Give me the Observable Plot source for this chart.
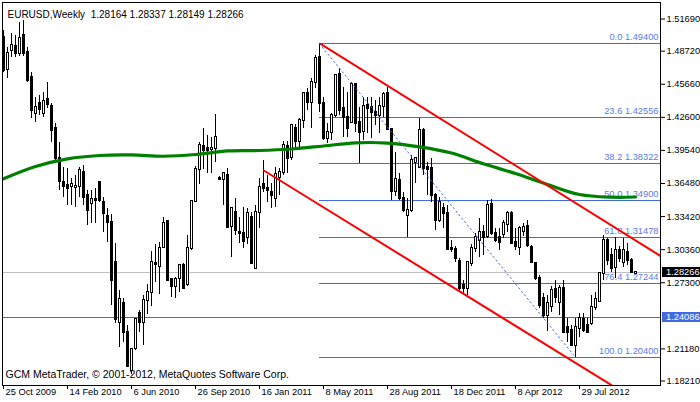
<!DOCTYPE html>
<html><head><meta charset="utf-8">
<script src="https://cdn.jsdelivr.net/npm/d3@7"></script>
<script src="https://cdn.jsdelivr.net/npm/@observablehq/plot@0.6"></script>
<style>
html,body{margin:0;padding:0;background:#fff;}
#chart{width:700px;height:402px;overflow:hidden;}
</style></head><body><div id="chart"></div>
<script>
const openP = [1.5001,1.4700,1.4878,1.4915,1.4853,1.5017,1.4862,1.4631,1.4298,1.4385,1.4298,1.4422,1.4360,1.4154,1.3876,1.3660,1.3629,1.3620,1.3614,1.3620,1.3752,1.3537,1.3466,1.3497,1.3657,1.3475,1.3345,1.3290,1.2920,1.2362,1.2535,1.2267,1.1918,1.2119,1.2443,1.2365,1.2566,1.2637,1.2912,1.2883,1.3059,1.3296,1.2760,1.2698,1.2766,1.2889,1.2711,1.3049,1.3481,1.3777,1.3993,1.3969,1.3962,1.3969,1.3690,1.3685,1.3722,1.3250,1.3377,1.3197,1.3183,1.3150,1.3336,1.2864,1.3377,1.3636,1.3597,1.3567,1.3506,1.3700,1.3752,1.3990,1.3890,1.4159,1.4036,1.4231,1.4478,1.4400,1.4585,1.4811,1.4385,1.4061,1.4122,1.4277,1.4656,1.4339,1.4261,1.4215,1.4564,1.4209,1.4129,1.4369,1.4348,1.4307,1.4277,1.4360,1.4480,1.4145,1.3574,1.3676,1.3512,1.3352,1.3398,1.3845,1.3799,1.4138,1.3796,1.3784,1.3537,1.3306,1.3414,1.3368,1.3047,1.3033,1.2926,1.2704,1.2677,1.2908,1.3044,1.3121,1.3197,1.3158,1.3454,1.3183,1.3151,1.3173,1.3266,1.3368,1.3105,1.3059,1.3204,1.3250,1.3059,1.2905,1.2766,1.2581,1.2427,1.2510,1.2667,1.2550,1.2674,1.2316,1.2288,1.2149,1.2304,1.2390,1.2334,1.2350,1.2504,1.2556,1.2813,1.3121,1.2982,1.2874,1.3028,1.2920,1.3012,1.2936,1.28164];
const highP = [1.5063,1.4909,1.5038,1.5017,1.5140,1.5156,1.4909,1.4677,1.4446,1.4462,1.4492,1.4585,1.4385,1.4200,1.4030,1.3799,1.3784,1.3691,1.3722,1.3799,1.3814,1.3583,1.3583,1.3599,1.3666,1.3521,1.3414,1.3361,1.3090,1.2658,1.2581,1.2334,1.2119,1.2402,1.2473,1.2612,1.2711,1.3019,1.3081,1.3105,1.3336,1.3306,1.2772,1.2781,1.2896,1.2905,1.3167,1.3491,1.3808,1.4030,1.4154,1.4092,1.4076,1.4286,1.3713,1.3752,1.3784,1.3426,1.3506,1.3336,1.3429,1.3419,1.3382,1.3444,1.3697,1.3861,1.3722,1.3645,1.3799,1.3784,1.4036,1.4036,1.4191,1.4194,1.4249,1.4492,1.4527,1.4619,1.4832,1.4940,1.4446,1.4200,1.4293,1.4656,1.4709,1.4533,1.4492,1.4585,1.4570,1.4354,1.4446,1.4446,1.4446,1.4416,1.4446,1.4492,1.4539,1.4154,1.3937,1.3738,1.3567,1.3506,1.3907,1.3891,1.4246,1.4154,1.3845,1.3876,1.3553,1.3521,1.3460,1.3444,1.3121,1.3065,1.2951,1.2751,1.2926,1.3084,1.3185,1.3321,1.3259,1.3491,1.3500,1.3229,1.3232,1.3306,1.3389,1.3389,1.3229,1.3253,1.3278,1.3306,1.3074,1.2917,1.2797,1.2628,1.2612,1.2695,1.2751,1.2704,1.2751,1.2399,1.2334,1.2399,1.2443,1.2445,1.2399,1.2612,1.2642,1.2827,1.3167,1.3136,1.3044,1.3151,1.3065,1.3142,1.3090,1.2951,1.28337];
const lowP = [1.4675,1.4616,1.4816,1.4816,1.4823,1.4823,1.4585,1.4246,1.4215,1.4277,1.4261,1.4339,1.4030,1.3845,1.3583,1.3521,1.3444,1.3444,1.3429,1.3521,1.3444,1.3259,1.3275,1.3275,1.3475,1.3197,1.3105,1.2519,1.2350,1.2134,1.2180,1.1949,1.1878,1.2103,1.2272,1.2149,1.2433,1.2513,1.2729,1.2618,1.3044,1.2741,1.2596,1.2581,1.2642,1.2667,1.2698,1.3028,1.3475,1.3636,1.3777,1.3738,1.3738,1.3845,1.3680,1.3444,1.3234,1.2966,1.3167,1.3090,1.3049,1.3081,1.2896,1.2859,1.3229,1.3567,1.3475,1.3414,1.3429,1.3537,1.3722,1.3738,1.3861,1.3953,1.3953,1.4154,1.4323,1.4154,1.4524,1.4305,1.4046,1.4015,1.4046,1.4261,1.4277,1.4076,1.4076,1.4200,1.4122,1.3830,1.4046,1.4108,1.4061,1.4184,1.4108,1.4261,1.4138,1.3491,1.3528,1.3491,1.3377,1.3151,1.3382,1.3645,1.3784,1.3722,1.3537,1.3475,1.3213,1.3290,1.3229,1.3028,1.3010,1.2917,1.2658,1.2621,1.2612,1.2880,1.3010,1.2966,1.2982,1.3139,1.3167,1.3102,1.3028,1.3139,1.3197,1.3081,1.3028,1.2982,1.3158,1.3056,1.2905,1.2751,1.2489,1.2399,1.2282,1.2455,1.2538,1.2427,1.2270,1.2177,1.2140,1.2040,1.2226,1.2270,1.2260,1.2334,1.2473,1.2547,1.2751,1.2889,1.2827,1.2766,1.2917,1.2874,1.2889,1.2815,1.28149];
const closeP = [1.4693,1.4848,1.4924,1.4853,1.4986,1.4850,1.4601,1.4323,1.4354,1.4330,1.4409,1.4379,1.4138,1.3876,1.3669,1.3620,1.3604,1.3639,1.3623,1.3768,1.3521,1.3398,1.3500,1.3491,1.3491,1.3373,1.3290,1.2755,1.2390,1.2575,1.2272,1.1958,1.2112,1.2390,1.2365,1.2566,1.2637,1.2920,1.2901,1.3049,1.3275,1.2751,1.2698,1.2760,1.2889,1.2674,1.3044,1.3481,1.3777,1.3999,1.3953,1.3953,1.3974,1.4071,1.3685,1.3738,1.3244,1.3414,1.3213,1.3183,1.3111,1.3368,1.2905,1.3382,1.3614,1.3602,1.3583,1.3537,1.3731,1.3752,1.3999,1.3882,1.4184,1.4036,1.4231,1.4478,1.4400,1.4585,1.4807,1.4385,1.4061,1.4117,1.4277,1.4647,1.4323,1.4261,1.4154,1.4564,1.4206,1.4122,1.4360,1.4342,1.4300,1.4277,1.4360,1.4471,1.4145,1.3574,1.3685,1.3512,1.3398,1.3398,1.3861,1.3876,1.4138,1.3784,1.3777,1.3537,1.3306,1.3475,1.3368,1.3037,1.3033,1.2951,1.2679,1.2677,1.2917,1.3044,1.3148,1.3197,1.3148,1.3444,1.3183,1.3121,1.3105,1.3275,1.3368,1.3090,1.3068,1.3229,1.3244,1.3074,1.2920,1.2766,1.2519,1.2427,1.2535,1.2658,1.2593,1.2674,1.2272,1.2267,1.2149,1.2316,1.2396,1.2288,1.2272,1.2504,1.2575,1.2813,1.3121,1.2936,1.2859,1.3028,1.2951,1.3028,1.2936,1.2827,1.28266];

const xTickBars = [0,16,32,48,64,80,96,112,128,144];
const xTickLabels = ["25 Oct 2009","14 Feb 2010","6 Jun 2010","26 Sep 2010","16 Jan 2011","8 May 2011","28 Aug 2011","18 Dec 2011","8 Apr 2012","29 Jul 2012"];
const yTickValues = [1.5169,1.4872,1.4566,1.4260,1.3954,1.3648,1.3342,1.3036,1.2730,1.2118,1.1821];

const maBars = [0,8,16,24,32,40,48,56,64,72,80,88,96,104,112,120,128,136,144,152,158];
const maValues = [1.3691,1.3805,1.3876,1.3907,1.3912,1.3900,1.3916,1.3949,1.3953,1.3967,1.3995,1.4024,1.4022,1.3987,1.3930,1.3830,1.3740,1.3639,1.3546,1.3521,1.3523];

const fibRatios = [0,23.6,38.2,50,61.8,76.4,100];
const fibPrices = [1.494,1.42556,1.38322,1.349,1.31478,1.27244,1.204];
const fibStartBar = 79;
const diagBars = [79,143], diagPrices = [1.494,1.204];
const upperBars = [79.25,164.25], upperPrices = [1.494,1.2977];
const lowerBars = [65.08,160], lowerPrices = [1.3768,1.1600];
const bidPrice = 1.28266;
const hlinePrice = 1.24086;
const titleText = "EURUSD,Weekly  1.28164 1.28337 1.28149 1.28266";
const footerText = "GCM MetaTrader, \u00a9 2001-2012, MetaQuotes Software Corp.";

const candles = openP.map((o,i)=>({i, o, h: highP[i], l: lowP[i], c: closeP[i]}));
const fib = fibRatios.map((r,k)=>({r, p: fibPrices[k]}));
const ma = maBars.map((b,k)=>({b, v: maValues[k]}));
const line2 = (bs, ps) => bs.map((b,k)=>({b, p: ps[k]}));

const FS = 9.3;
function priceBoxes(index, scales, values, dimensions) {
  const g = d3.create("svg:g").attr("font-size", FS).attr("font-family", "'Liberation Sans', Arial, sans-serif").attr("text-anchor", "start");
  const x0 = dimensions.width - dimensions.marginRight;
  for (const [p, col] of [[bidPrice, "#000000"], [hlinePrice, "#4169e1"]]) {
    const y = scales.y(p);
    g.append("rect").attr("x", x0 + 2).attr("y", Math.round(y) - 5).attr("width", dimensions.marginRight - 2).attr("height", 10).attr("fill", col);
    g.append("text").attr("x", x0 + 6).attr("y", y).attr("dy", "0.35em").attr("text-anchor", "start").attr("fill", "white").text(p.toFixed(5));
  }
  return g.node();
}

const chart = Plot.plot({
  width: 700, height: 402,
  marginLeft: 2, marginRight: 40, marginTop: 2, marginBottom: 17,
  style: {fontFamily: "'Liberation Sans', Arial, sans-serif", fontSize: FS + "px", background: "white", color: "black"},
  x: {type: "linear", domain: [-0.25, 164.25]},
  y: {type: "linear", domain: [1.17794, 1.53221]},
  marks: [
    Plot.ruleY([hlinePrice], {stroke: "#4169e1", shapeRendering: "crispEdges"}),
    Plot.ruleY([bidPrice], {stroke: "#c0c0c0", shapeRendering: "crispEdges"}),
    Plot.ruleY(fib, {y: "p", x1: fibStartBar, x2: 164.25, stroke: "#4169e1", shapeRendering: "crispEdges"}),
    Plot.ruleX(candles, {x: "i", y1: "l", y2: "h", stroke: "#000", shapeRendering: "crispEdges"}),
    Plot.rect(candles.filter(d => d.c >= d.o), {x1: d => d.i - 0.25, x2: d => d.i + 0.25, y1: "o", y2: "c", fill: "white", stroke: "#000", insetTop: -0.5, insetBottom: -0.5, shapeRendering: "crispEdges"}),
    Plot.rect(candles.filter(d => d.c < d.o), {x1: d => d.i - 0.25, x2: d => d.i + 0.25, y1: "o", y2: "c", fill: "#000", stroke: "#000", insetTop: -0.5, insetBottom: -0.5, shapeRendering: "crispEdges"}),
    Plot.text(fib, {y: "p", text: d => `${d.r.toFixed(1)} ${d.p.toFixed(5)}`, frameAnchor: "right", textAnchor: "end", dx: -2, dy: -6.5, fill: "#5b7be0", fontSize: FS}),
    Plot.line(ma, {x: "b", y: "v", stroke: "#008000", strokeWidth: 3.2, curve: "catmull-rom"}),
    Plot.line(line2(upperBars, upperPrices), {x: "b", y: "p", stroke: "#ff0000", strokeWidth: 2, clip: true}),
    Plot.line(line2(lowerBars, lowerPrices), {x: "b", y: "p", stroke: "#ff0000", strokeWidth: 2, clip: true}),
    Plot.line(line2(diagBars, diagPrices), {x: "b", y: "p", stroke: "#4169e1", strokeWidth: 1, strokeDasharray: "1.5,3"}),
    Plot.frame({stroke: "#000", shapeRendering: "crispEdges"}),
    Plot.axisY(yTickValues, {anchor: "right", tickSize: 4, tickPadding: 2, tickFormat: d => d.toFixed(5), fontSize: FS, label: null}),
    Plot.axisX(xTickBars, {anchor: "bottom", tickSize: 4, fill: "none", label: null}),
    Plot.text(xTickBars, {x: d => d, text: (d, k) => xTickLabels[k], frameAnchor: "bottom", dy: 9, dx: 2, textAnchor: "start", fontSize: FS}),
    Plot.text([titleText], {text: d => d, frameAnchor: "top-left", dx: 5, dy: 8, textAnchor: "start", fontSize: 10}),
    Plot.text([footerText], {text: d => d, frameAnchor: "bottom-left", dx: 3, dy: -8, textAnchor: "start", fontSize: 10.5}),
    priceBoxes
  ]
});
document.getElementById("chart").appendChild(chart);
</script>
</body></html>
